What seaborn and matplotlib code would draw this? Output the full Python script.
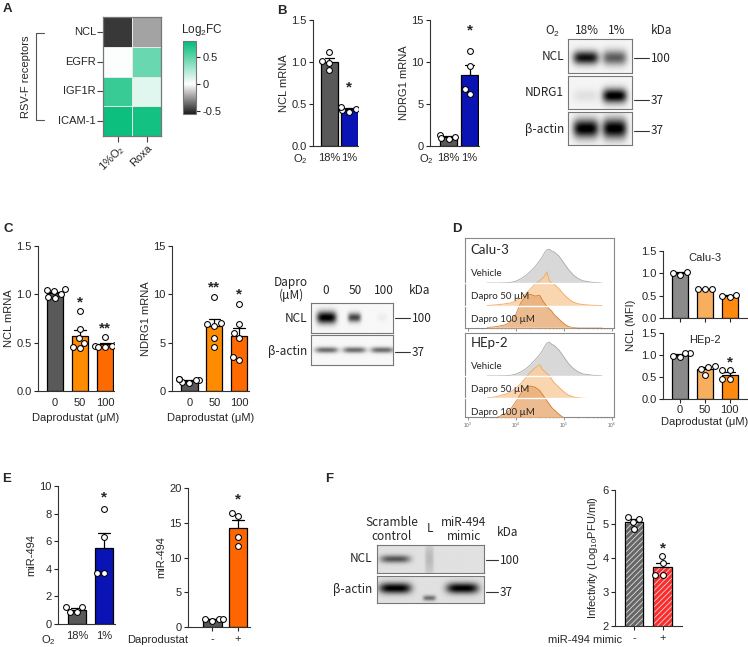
import numpy as np
import pandas as pd
import matplotlib
matplotlib.use('Agg')
import matplotlib.pyplot as plt
import seaborn as sns
from matplotlib.colors import LinearSegmentedColormap
from matplotlib.lines import Line2D
from matplotlib.patches import Rectangle

sns.set_theme(style='ticks')
plt.rcParams['font.family'] = ['Liberation Sans', 'DejaVu Sans']
plt.rcParams['mathtext.fontset'] = 'custom'
plt.rcParams['mathtext.rm'] = 'Liberation Sans'
plt.rcParams['mathtext.it'] = 'Liberation Sans:italic'
plt.rcParams['axes.linewidth'] = 0.8
plt.rcParams['axes.edgecolor'] = '#333333'
plt.rcParams['hatch.linewidth'] = 0.6
plt.rcParams['hatch.color'] = 'white'

BLOT_FONT = ['Noto Sans CJK TC', 'DejaVu Sans']
FLOW_FONT = ['Lato', 'DejaVu Sans']
FS = 8

# ---------------- data ----------------
# A heatmap (log2 fold change)
hm_genes = ['NCL', 'EGFR', 'IGF1R', 'ICAM-1']
hm_conds = ['1%O$_2$', 'Roxa']
hm_o2 = [-0.48, 0.01, 0.62, 0.76]
hm_roxa = [-0.22, 0.47, 0.10, 0.74]

# B
o2_groups = ['18%', '1%']
b_ncl = [[1.12, 1.01, 0.99, 0.90], [0.41, 0.43, 0.44, 0.47]]
b_ndrg1 = [[0.8, 1.3, 1.1, 0.9], [11.3, 9.5, 6.8, 6.2]]
b_blot_lanes = ['18%', '1%']
b_blot_ncl = [0.9, 0.6]
b_blot_ndrg1 = [0.08, 1.0]
b_blot_actin = [1.0, 1.0]

# C
dapro_groups = ['0', '50', '100']
c_ncl = [[1.04, 1.06, 1.03, 0.97, 0.96, 1.00],
         [0.83, 0.64, 0.55, 0.45, 0.44, 0.50],
         [0.56, 0.48, 0.47, 0.46, 0.46, 0.47]]
c_ndrg1 = [[0.9, 1.2, 1.1, 1.2, 0.8, 1.1],
           [9.7, 6.9, 6.7, 5.5, 4.5, 7.0],
           [8.97, 6.9, 6.0, 5.5, 3.5, 3.2]]
c_blot_lanes = ['0', '50', '100']
c_blot_ncl = [1.0, 0.7, 0.04]
c_blot_actin = [0.55, 0.55, 0.55]

# D flow histograms (log10 fluorescence grid, peak heights in row units)
flow_x = [3.4, 3.6, 3.8, 3.9, 4.0, 4.1, 4.2, 4.3, 4.4, 4.5, 4.55, 4.6,
          4.65, 4.7, 4.75, 4.8, 4.9, 5.0, 5.1, 5.2, 5.3, 5.4, 5.6, 5.8]
calu_veh = [0, 0, 0.01, 0.03, 0.08, 0.18, 0.32, 0.5, 0.72, 1.0, 1.15, 1.35,
            1.48, 1.5, 1.42, 1.38, 1.2, 0.9, 0.6, 0.36, 0.2, 0.1, 0.03, 0]
calu_50 = [0, 0.03, 0.08, 0.12, 0.2, 0.32, 0.5, 0.72, 0.95, 1.1, 1.2, 1.3,
           1.5, 1.1, 1.0, 0.95, 0.75, 0.5, 0.3, 0.15, 0.08, 0.04, 0.01, 0]
calu_100 = [0.02, 0.06, 0.15, 0.3, 0.6, 1.1, 1.4, 1.5, 1.42, 1.45, 1.25, 1.1,
            0.95, 0.85, 0.75, 0.6, 0.4, 0.2, 0.06, 0.02, 0, 0, 0, 0]
hep_veh = [0, 0, 0.01, 0.03, 0.08, 0.17, 0.3, 0.48, 0.7, 0.95, 1.1, 1.3,
           1.45, 1.5, 1.4, 1.35, 1.15, 0.85, 0.55, 0.33, 0.18, 0.09, 0.03, 0]
hep_50 = [0.02, 0.08, 0.2, 0.3, 0.45, 0.65, 0.9, 1.15, 1.35, 1.5, 1.3, 1.2,
          1.1, 1.0, 0.85, 0.7, 0.5, 0.3, 0.15, 0.07, 0.03, 0.01, 0, 0]
hep_100 = [0.05, 0.15, 0.35, 0.55, 0.85, 1.2, 1.45, 1.55, 1.5, 1.35, 1.2, 1.05,
           0.9, 0.75, 0.6, 0.5, 0.3, 0.15, 0.05, 0.02, 0, 0, 0, 0]
flow_rows = ['Vehicle', 'Dapro 50 µM', 'Dapro 100 µM']

d_calu = [[0.97, 1.01, 1.03], [0.64, 0.65, 0.66], [0.47, 0.49, 0.52]]
d_hep = [[1.05, 1.05, 0.95, 0.97], [0.75, 0.72, 0.55, 0.68], [0.65, 0.65, 0.45, 0.45]]

# E
e_o2 = [[1.2, 1.2, 0.85, 0.85], [8.3, 6.3, 3.7, 3.7]]
pm_groups = ['-', '+']
e_dapro = [[0.9, 1.2, 1.1, 1.2], [16.4, 15.9, 12.9, 11.6]]

# F
f_blot_lanes = ['Scramble\ncontrol', 'L', 'miR-494\nmimic']
f_blot_ncl = [0.55, 0.15, 0.0]
f_blot_actin = [0.9, 0.45, 0.9]
f_inf = [[5.2, 5.15, 5.05, 4.85], [4.05, 3.85, 3.5, 3.5]]

W, H = 748, 647
fig = plt.figure(figsize=(W / 100, H / 100), dpi=100)


def px_axes(x0, y0, x1, y1):
    return fig.add_axes([x0 / W, 1 - y1 / H, (x1 - x0) / W, (y1 - y0) / H])


def ftext(x, y, s, **kw):
    kw.setdefault('va', 'center')
    kw.setdefault('fontsize', FS)
    fig.text(x / W, 1 - y / H, s, **kw)


def fline(x0, x1, y0, y1, **kw):
    fig.add_artist(Line2D([x0 / W, x1 / W], [1 - y0 / H, 1 - y1 / H],
                          color=kw.get('color', '#333333'), lw=kw.get('lw', 0.8)))


def bars(box, groups, vals, colors, ylim, yticks, ylabel, xlim, width,
         stars=None, star_off=0.1, ticklen=0, yfmt=None, hatch=None):
    ax = px_axes(*box)
    df = pd.DataFrame({'g': [g for g, v in zip(groups, vals) for _ in v],
                       'v': [x for v in vals for x in v]})
    sns.barplot(data=df, x='g', y='v', hue='g', order=groups, hue_order=groups,
                palette=colors, saturation=1, errorbar='se', capsize=0.45,
                err_kws={'color': 'black', 'linewidth': 0.9},
                edgecolor='black', linewidth=0.9, width=width, legend=False, ax=ax)
    for l in ax.lines:
        l.set_zorder(0.9)
    if hatch:
        for p in list(ax.patches):
            p.set_hatch(hatch)
            p.set_edgecolor('#dddddd')
            ax.add_patch(Rectangle(p.get_xy(), p.get_width(), p.get_height(),
                                   fill=False, ec='black', lw=0.9, zorder=1.1))
    sns.swarmplot(data=df, x='g', y='v', order=groups, color='white',
                  edgecolor='black', linewidth=0.75, size=4.2, ax=ax)
    for c in ax.collections:
        c.set_zorder(3)
    ax.set_xlim(xlim)
    ax.set_ylim(ylim)
    ax.set_yticks(yticks)
    if yfmt:
        ax.set_yticklabels([yfmt.format(t) for t in yticks])
    ax.set_xlabel('')
    ax.set_ylabel(ylabel, fontsize=FS, labelpad=2)
    sns.despine(ax=ax)
    ax.tick_params(axis='y', length=3, width=0.8, labelsize=FS, pad=1.5)
    ax.tick_params(axis='x', length=ticklen, width=0.8, labelsize=FS,
                   pad=5 - ticklen)
    if stars:
        rng = ylim[1] - ylim[0]
        for i, s in enumerate(stars):
            if s:
                ax.text(i, max(vals[i]) + star_off * rng, s, ha='center',
                        va='center', fontsize=11, fontweight='bold')
    return ax


def strip(ax, centers, inten, half_w, yc=None, h=None, bg=0.04):
    x = np.linspace(0, 1, 300)
    y = np.linspace(0, 1, 80)
    X, Y = np.meshgrid(x, y)
    img = np.full_like(X, bg)
    for i, (c, a, w) in enumerate(zip(centers, inten, half_w)):
        yy = 0.5 if yc is None else yc[i]
        hh = 0.2 if h is None else h[i]
        img += a * np.exp(-((X - c) / w) ** 4) * np.exp(-((Y - yy) / hh) ** 2)
    ax.imshow(np.clip(img, 0, 1), cmap='gray_r', vmin=0, vmax=1,
              extent=(0, 1, 0, 1), aspect='auto', origin='lower',
              interpolation='bilinear')
    ax.set_xticks([])
    ax.set_yticks([])
    for s in ax.spines.values():
        s.set_color('#777777')
        s.set_linewidth(0.8)


# ---------------- A: heatmap ----------------
ax = px_axes(103, 17, 161, 136)
cax = px_axes(183, 41, 196, 114)
hm = pd.DataFrame({hm_conds[0]: hm_o2, hm_conds[1]: hm_roxa}, index=hm_genes)
cmap = LinearSegmentedColormap.from_list(
    'kg', [(0, '#1c1c1c'), (0.55 / 1.35, '#ffffff'), (1, '#00BC78')])
sns.heatmap(hm, ax=ax, cbar_ax=cax, cmap=cmap, vmin=-0.55, vmax=0.8,
            linewidths=0.5, linecolor='#e8e8e8')
for s in ax.spines.values():
    s.set_visible(True)
    s.set_color('#777777')
    s.set_linewidth(0.9)
ax.tick_params(length=4, width=0.8, labelsize=FS, pad=1, color='#444444')
ax.set_yticklabels(hm_genes, rotation=0)
ax.set_xticklabels(hm_conds, rotation=45, ha='right', rotation_mode='anchor')
cbar = ax.collections[0].colorbar
cbar.set_ticks([-0.5, 0, 0.5])
cbar.set_ticklabels(['-0.5', '0', '0.5'])
cbar.outline.set_edgecolor('#777777')
cbar.outline.set_linewidth(0.8)
cax.tick_params(length=3, width=0.8, labelsize=FS, pad=1.5)
ftext(202, 30, 'Log$_2$FC', ha='center', fontsize=8.5)
fline(36, 36, 33, 120, color='#555555')
fline(36, 44, 33, 33, color='#555555')
fline(36, 44, 120, 120, color='#555555')
ftext(26, 77, 'RSV-F receptors', ha='center', rotation=90)

# ---------------- B ----------------
ax = bars((313, 20, 358, 146), o2_groups, b_ncl, ['#595959', '#0A14B4'],
          (0, 1.5), [0, 0.5, 1.0, 1.5], 'NCL mRNA', (-0.8, 1.45), 0.85,
          stars=[None, '*'], star_off=0.15, yfmt='{:.1f}')
ftext(300, 159, 'O$_2$', ha='center')
ax = bars((430, 20, 479, 146), o2_groups, b_ndrg1, ['#595959', '#0A14B4'],
          (0, 15), [0, 5, 10, 15], 'NDRG1 mRNA', (-0.88, 1.45), 0.78,
          stars=[None, '*'], star_off=0.16)
ftext(426, 159, 'O$_2$', ha='center')

blot_rows = [(39, 73, b_blot_ncl, 0.45), (76, 109, b_blot_ndrg1, 0.4),
             (112, 145, b_blot_actin, 0.5)]
for y0, y1, vals, yc in blot_rows:
    bx = px_axes(568, y0, 632, y1)
    strip(bx, [0.28, 0.73], vals, [0.2, 0.19], yc=[yc, yc],
          h=[0.2, 0.22] if vals is not b_blot_actin else [0.28, 0.3])
ftext(553, 31, 'O$_2$', ha='center', fontsize=8.5, family=BLOT_FONT)
for lab, x in zip(b_blot_lanes, [587, 617]):
    ftext(x, 30, lab, ha='center', fontsize=8.5, family=BLOT_FONT)
ftext(662, 30, 'kDa', ha='center', fontsize=8.5, family=BLOT_FONT)
for lab, y in zip(['NCL', 'NDRG1', 'β-actin'], [57, 93, 129]):
    ftext(564, y, lab, ha='right', fontsize=8.5, family=BLOT_FONT)
for lab, y in zip(['100', '37', '37'], [58, 100, 131]):
    fline(634, 649, y, y)
    ftext(651, y, lab, ha='left', fontsize=8.5, family=BLOT_FONT)

# ---------------- C ----------------
ax = bars((38, 246, 114, 391), dapro_groups, c_ncl, ['#595959', '#FF8C00', '#FF6A00'],
          (0, 1.5), [0, 0.5, 1.0, 1.5], 'NCL mRNA', (-0.68, 2.35), 0.66,
          stars=[None, '*', '**'], star_off=0.06, yfmt='{:.1f}')
ax.set_xlabel('Daprodustat (μM)', fontsize=FS, labelpad=4)
ax = bars((172, 246, 249, 391), dapro_groups, c_ndrg1, ['#595959', '#FF8C00', '#FF6A00'],
          (0, 15), [0, 5, 10, 15], 'NDRG1 mRNA', (-0.7, 2.4), 0.66,
          stars=[None, '**', '*'], star_off=0.07)
ax.set_xlabel('Daprodustat (μM)', fontsize=FS, labelpad=4)

c_lane_x = [0.19, 0.53, 0.87]
bx = px_axes(311, 303, 393, 333)
strip(bx, c_lane_x, c_blot_ncl, [0.12, 0.08, 0.06], h=[0.2, 0.15, 0.12], bg=0.03)
bx = px_axes(311, 335, 393, 365)
strip(bx, c_lane_x, c_blot_actin, [0.14, 0.14, 0.14], h=[0.1, 0.1, 0.1], bg=0.03)
ftext(291, 289, 'Dapro\n(μM)', ha='center', fontsize=8.5, family=BLOT_FONT,
      linespacing=1.0)
for lab, x in zip(c_blot_lanes, [326, 355, 384]):
    ftext(x, 291, lab, ha='center', fontsize=8.5, family=BLOT_FONT)
ftext(420, 291, 'kDa', ha='center', fontsize=8.5, family=BLOT_FONT)
ftext(307, 318, 'NCL', ha='right', fontsize=8.5, family=BLOT_FONT)
ftext(307, 352, 'β-actin', ha='right', fontsize=8.5, family=BLOT_FONT)
for lab, y in zip(['100', '37'], [318, 352]):
    fline(395, 410, y, y)
    ftext(412, y, lab, ha='left', fontsize=8.5, family=BLOT_FONT)

# ---------------- D: flow ----------------
flow_sets = [('Calu-3', (465, 238, 614, 328), (0, 4.0), [calu_veh, calu_50, calu_100], False),
             ('HEp-2', (465, 333, 614, 417), (0.18, 3.9), [hep_veh, hep_50, hep_100], True)]
fills = ['#d2d2d2', '#f9cfa2', '#e9b07c']
edges = ['#a8a8a8', '#f2a65a', '#d77a2a']
for name, box, yl, curves, labels in flow_sets:
    fx = px_axes(*box)
    for k, (crv, fc, ec) in enumerate(zip(curves, fills, edges)):
        base = 2 - k
        fx.fill_between(flow_x, base, [base + v for v in crv], color=fc,
                        alpha=0.85, lw=0, zorder=2 + k)
        fx.plot(flow_x, [base + v for v in crv], color=ec, lw=0.6, zorder=2 + k)
        fx.axhline(base, color='white', lw=1.0, zorder=5)
        fx.text(3.06, base + 0.2, flow_rows[k], fontsize=7, family=FLOW_FONT,
                va='bottom', ha='left', zorder=6)
    fx.text(3.06, 3.45, name, fontsize=9.5, family=FLOW_FONT, va='center', ha='left')
    fx.set_xlim(2.94, 6.05)
    fx.set_ylim(*yl)
    fx.set_yticks([])
    fx.set_xticks([3, 4, 5, 6])
    fx.set_xticks([np.log10(m * 10 ** e) for e in (3, 4, 5) for m in range(2, 10)],
                  minor=True)
    fx.tick_params(axis='x', which='major', length=2, width=0.5, color='#666666')
    fx.tick_params(axis='x', which='minor', length=1, width=0.4, color='#888888')
    if labels:
        fx.set_xticklabels(['10$^3$', '10$^4$', '10$^5$', '10$^6$'], fontsize=3.5,
                           color='#666666')
        fx.tick_params(axis='x', pad=1)
    else:
        fx.set_xticklabels([])
    for s in fx.spines.values():
        s.set_color('#888888')
        s.set_linewidth(0.8)

d_cols = ['#8a8a8a', '#F7AE5E', '#FF8A10']
ax = bars((663, 251, 747, 318), dapro_groups, d_calu, d_cols,
          (0, 1.5), [0, 0.5, 1.0, 1.5], '', (-0.68, 2.7), 0.64,
          ticklen=3, yfmt='{:.1f}')
ax.set_xticklabels([])
ax.text(0.5, 0.97, 'Calu-3', transform=ax.transAxes, ha='center', va='top',
        fontsize=FS)
ax = bars((663, 333, 747, 399), dapro_groups, d_hep, d_cols,
          (0, 1.5), [0, 0.5, 1.0, 1.5], '', (-0.68, 2.7), 0.64,
          stars=[None, None, '*'], star_off=0.12, ticklen=3, yfmt='{:.1f}')
ax.tick_params(axis='x', pad=1.5)
ax.set_xlabel('Daprodustat (μM)', fontsize=FS, labelpad=1)
ax.text(0.5, 0.97, 'HEp-2', transform=ax.transAxes, ha='center', va='top',
        fontsize=FS)
ftext(631, 325, 'NCL (MFI)', ha='center', rotation=90)

# ---------------- E ----------------
ax = bars((58, 486, 115, 624), o2_groups, e_o2, ['#595959', '#0A14B4'],
          (0, 10), [0, 2, 4, 6, 8, 10], 'miR-494', (-0.7, 1.41), 0.67,
          stars=[None, '*'], star_off=0.09)
ftext(48, 640, 'O$_2$', ha='center')
ax = bars((188, 488, 250, 627), pm_groups, e_dapro, ['#595959', '#FF6600'],
          (0, 20), [0, 5, 10, 15, 20], 'miR-494', (-0.96, 1.47), 0.74,
          stars=[None, '*'], star_off=0.1, ticklen=3)
ftext(188, 640, 'Daprodustat', ha='right')

# ---------------- F ----------------
f_lane_x = [0.17, 0.49, 0.8]
bx = px_axes(377, 545, 484, 573)
strip(bx, f_lane_x, f_blot_ncl, [0.14, 0.04, 0.14], h=[0.14, 0.6, 0.14], bg=0.12)
bx = px_axes(377, 576, 484, 603)
strip(bx, f_lane_x, f_blot_actin, [0.15, 0.06, 0.15], yc=[0.55, 0.18, 0.55],
      h=[0.2, 0.1, 0.2], bg=0.12)
for lab, x in zip(f_blot_lanes, [392, 430, 464]):
    ftext(x, 529, lab, ha='center', fontsize=8.5, family=BLOT_FONT, linespacing=1.1)
ftext(508, 533, 'kDa', ha='center', fontsize=8.5, family=BLOT_FONT)
ftext(372, 559, 'NCL', ha='right', fontsize=8.5, family=BLOT_FONT)
ftext(372, 589, 'β-actin', ha='right', fontsize=8.5, family=BLOT_FONT)
for lab, y in zip(['100', '37'], [560, 592]):
    fline(486, 498, y, y)
    ftext(500, y, lab, ha='left', fontsize=8.5, family=BLOT_FONT)

ax = bars((615, 490, 682, 626), pm_groups, f_inf, ['#666666', '#FF2A2A'],
          (2, 6), [2, 3, 4, 5, 6], 'Infectivity (Log$_{10}$PFU/ml)', (-0.67, 1.68),
          0.65, stars=[None, '*'], star_off=0.06, ticklen=3, hatch='//////')
ftext(622, 640, 'miR-494 mimic', ha='right')

# panel letters
for lab, x, y in [('A', 3, 9), ('B', 277, 11), ('C', 3, 229), ('D', 452, 229),
                  ('E', 2, 479), ('F', 325, 479)]:
    ftext(x, y, lab, ha='left', fontsize=9.5, fontweight='bold')

fig.savefig('out.png', dpi=100)
